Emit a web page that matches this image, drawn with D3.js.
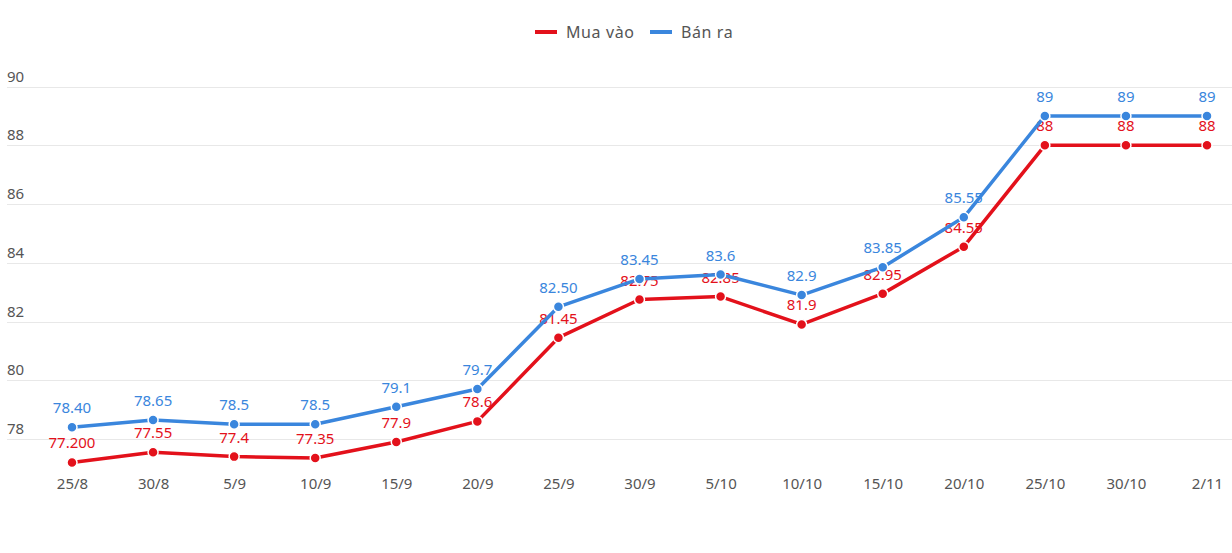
<!DOCTYPE html>
<html>
<head>
<meta charset="utf-8">
<script src="https://cdn.jsdelivr.net/npm/d3@7"></script>
<style>
  html, body { margin: 0; padding: 0; background: #fff; }
  svg { display: block; }
</style>
</head>
<body>
<svg id="chart" width="1232" height="553"></svg>
<script>
const categories = ["25/8","30/8","5/9","10/9","15/9","20/9","25/9","30/9","5/10","10/10","15/10","20/10","25/10","30/10","2/11"];
const muaVao = [77.2, 77.55, 77.4, 77.35, 77.9, 78.6, 81.45, 82.75, 82.85, 81.9, 82.95, 84.55, 88, 88, 88];
const muaVaoLabels = ["77.200","77.55","77.4","77.35","77.9","78.6","81.45","82.75","82.85","81.9","82.95","84.55","88","88","88"];
const banRa = [78.4, 78.65, 78.5, 78.5, 79.1, 79.7, 82.5, 83.45, 83.6, 82.9, 83.85, 85.55, 89, 89, 89];
const banRaLabels = ["78.40","78.65","78.5","78.5","79.1","79.7","82.50","83.45","83.6","82.9","83.85","85.55","89","89","89"];
const yTicks = [78, 80, 82, 84, 86, 88, 90];
const seriesNames = ["Mua vào", "Bán ra"];

const RED = "#e3111b", BLUE = "#3a86dd";
const svg = d3.select("#chart");
const font = "'Noto Sans', Roboto, sans-serif";

const x = d3.scalePoint().domain(categories).range([72, 1207]);
const y = d3.scaleLinear().domain([78, 90]).range([439, 86.6]);

// gridlines + y labels
const g = svg.append("g");
g.selectAll("line.grid").data(yTicks).join("line")
  .attr("x1", 7).attr("x2", 1232)
  .attr("y1", d => Math.round(y(d)) + 0.5).attr("y2", d => Math.round(y(d)) + 0.5)
  .attr("stroke", "#e8e8e8").attr("stroke-width", 1);
g.selectAll("text.ytick").data(yTicks).join("text")
  .attr("x", 7).attr("y", d => y(d) - 5)
  .attr("font-family", font).attr("font-size", 15).attr("fill", "#555")
  .text(d => d);

// x axis labels
const xAxis = d3.axisBottom(x).tickSize(0).tickPadding(0);
const xa = svg.append("g").attr("transform", "translate(0,478)").call(xAxis);
xa.select(".domain").remove();
xa.selectAll("text").attr("font-family", font).attr("font-size", 15).attr("fill", "#555");

const line = d3.line().x((d, i) => x(categories[i])).y(d => y(d));

function drawSeries(vals, labels, color) {
  svg.append("path").datum(vals).attr("d", line)
    .attr("fill", "none").attr("stroke", color).attr("stroke-width", 3.5)
    .attr("stroke-linejoin", "round");
  svg.append("g").selectAll("circle").data(vals).join("circle")
    .attr("cx", (d, i) => x(categories[i])).attr("cy", d => y(d)).attr("r", 5)
    .attr("fill", color).attr("stroke", "#fff").attr("stroke-width", 1.5);
  svg.append("g").selectAll("text").data(vals).join("text")
    .attr("x", (d, i) => x(categories[i])).attr("y", d => y(d) - 14)
    .attr("text-anchor", "middle")
    .attr("font-family", font).attr("font-size", 15).attr("fill", color)
    .text((d, i) => labels[i]);
}
drawSeries(muaVao, muaVaoLabels, RED);
drawSeries(banRa, banRaLabels, BLUE);

// legend
const legend = svg.append("g");
const legendItems = [{name: seriesNames[0], color: RED, x: 535}, {name: seriesNames[1], color: BLUE, x: 650}];
legendItems.forEach(it => {
  legend.append("line").attr("x1", it.x).attr("x2", it.x + 22).attr("y1", 32).attr("y2", 32)
    .attr("stroke", it.color).attr("stroke-width", 4);
  legend.append("text").attr("x", it.x + 31).attr("y", 37.5)
    .attr("font-family", font).attr("font-size", 16).attr("letter-spacing", 0.6)
    .attr("fill", "#555").text(it.name);
});
</script>
</body>
</html>
